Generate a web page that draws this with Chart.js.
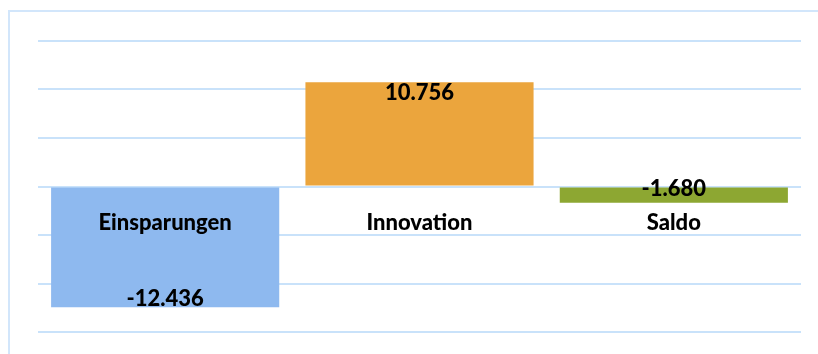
<!DOCTYPE html>
<html>
<head>
<meta charset="utf-8">
<script src="https://cdn.jsdelivr.net/npm/chart.js@4"></script>
<style>
  html, body { margin: 0; padding: 0; background: #fff; overflow: hidden; }
  canvas { display: block; }
</style>
</head>
<body>
<canvas id="saldo" width="818" height="354"></canvas>
<script>
const categories = ['Einsparungen', 'Innovation', 'Saldo'];
const values = [-12436, 10756, -1680];
const barColors = ['#8EB9EF', '#EBA53D', '#8DA732'];
const yTicks = { min: -15000, max: 15000, step: 5000 };

const labelFont = '900 22px Lato, "Open Sans", sans-serif';

// 12436 -> "12.436"
function formatValue(v) {
    const s = String(Math.abs(v)).replace(/\B(?=(\d{3})+(?!\d))/g, '.');
    return (v < 0 ? '-' : '') + s;
}

// light frame round the chart, running off the right and bottom edges
const framePlugin = {
    id: 'frame',
    beforeDraw(chart) {
        const ctx = chart.ctx;
        ctx.save();
        ctx.strokeStyle = '#D2E6FB';
        ctx.lineWidth = 2;
        ctx.beginPath();
        ctx.moveTo(9, 400);
        ctx.lineTo(9, 11);
        ctx.lineTo(900, 11);
        ctx.stroke();
        ctx.restore();
    }
};

// value labels at the bar ends, category names just under the zero line
const labelPlugin = {
    id: 'barLabels',
    afterDatasetsDraw(chart) {
        const ctx = chart.ctx;
        const meta = chart.getDatasetMeta(0);
        const zero = chart.scales.y.getPixelForValue(0);
        ctx.save();
        ctx.font = labelFont;
        ctx.fillStyle = '#000';
        ctx.textAlign = 'center';
        ctx.textBaseline = 'middle';
        meta.data.forEach((bar, i) => {
            const v = values[i];
            const h = Math.abs(bar.y - bar.base);
            let y;
            if (h < 24) y = bar.base + 1;
            else y = v > 0 ? bar.y + 11 : bar.y - 8;
            ctx.fillText(formatValue(v), bar.x, y);
            ctx.fillText(categories[i], bar.x, zero + 36);
        });
        ctx.restore();
    }
};

new Chart(document.getElementById('saldo').getContext('2d'), {
    type: 'bar',
    data: {
        labels: categories,
        datasets: [{
            data: values,
            backgroundColor: barColors,
            borderWidth: 0,
            categoryPercentage: 1,
            barPercentage: 0.897
        }]
    },
    options: {
        responsive: false,
        animation: false,
        layout: { padding: { left: 38, right: 17, top: 41, bottom: 22 } },
        plugins: {
            legend: { display: false },
            tooltip: { enabled: false }
        },
        scales: {
            x: { display: false },
            y: {
                min: yTicks.min,
                max: yTicks.max,
                ticks: { display: false, stepSize: yTicks.step },
                border: { display: false },
                grid: { color: '#C9E2FA', lineWidth: 2, drawTicks: false },
                afterFit: s => { s.width = 0; }
            }
        }
    },
    plugins: [framePlugin, labelPlugin]
});
</script>
</body>
</html>
